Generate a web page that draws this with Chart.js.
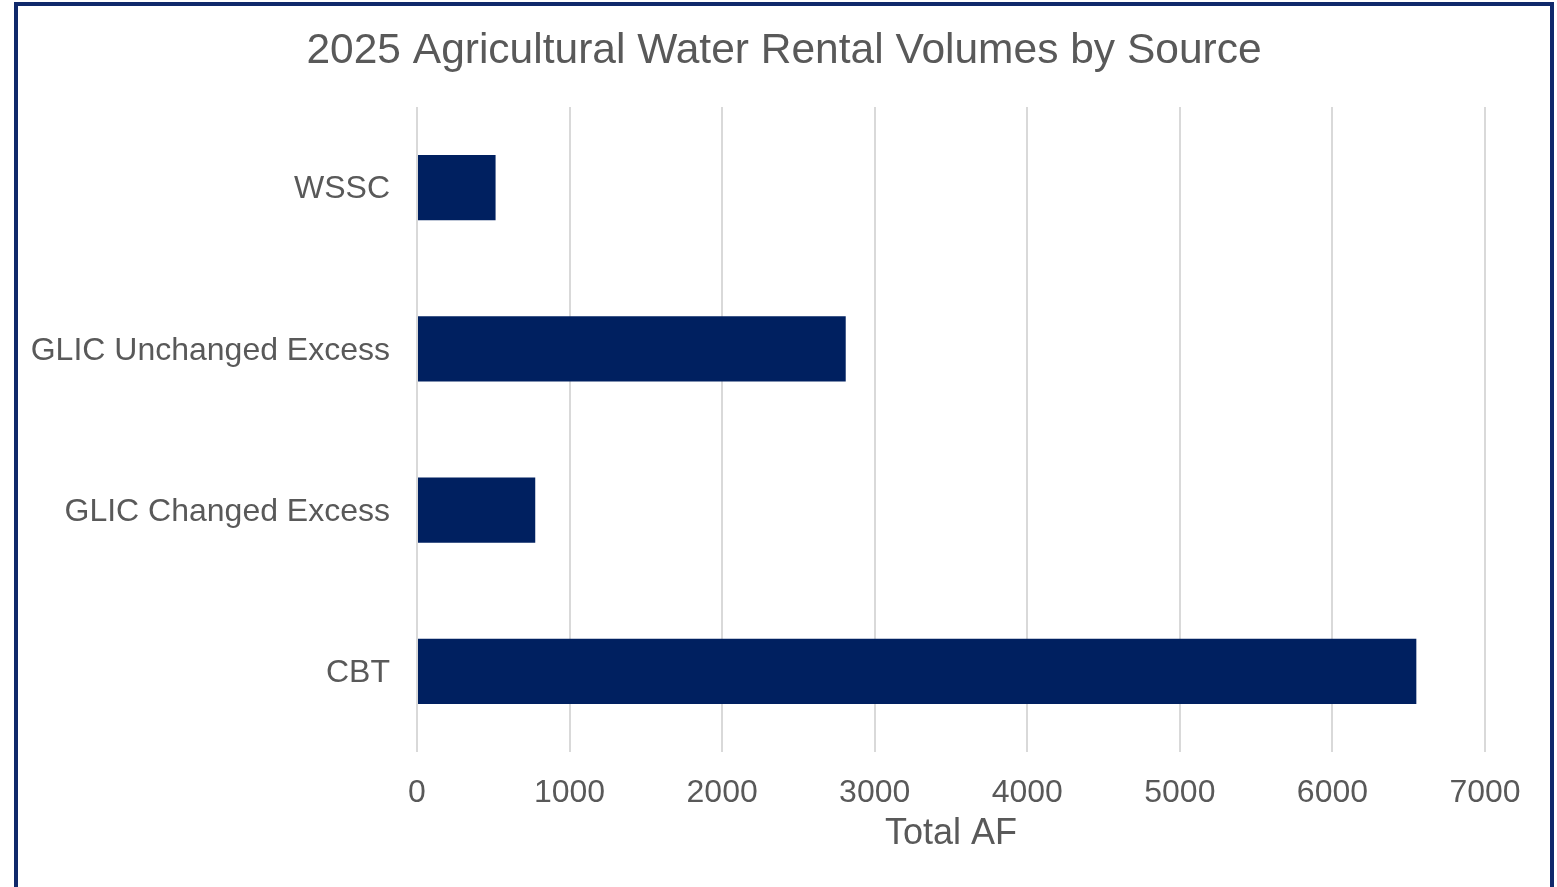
<!DOCTYPE html>
<html>
<head>
<meta charset="utf-8">
<title>2025 Agricultural Water Rental Volumes by Source</title>
<script src="https://cdn.jsdelivr.net/npm/chart.js@4/dist/chart.umd.min.js"></script>
<style>
    html, body { margin: 0; padding: 0; background: #fff; overflow: hidden; }
    #frame {
        position: absolute;
        left: 14px;
        top: 2px;
        width: 1540px;
        height: 890px;
        box-sizing: border-box;
        border: 4px solid #10296b;
        border-bottom: none;
    }
    #wrap { position: relative; width: 1532px; height: 881px; }
</style>
</head>
<body>
<div id="frame">
    <div id="wrap"><canvas id="chart"></canvas></div>
</div>
<script>
const sources = ['WSSC', 'GLIC Unchanged Excess', 'GLIC Changed Excess', 'CBT'];
const totalAF = [515, 2810, 775, 6550];
const axisMax = 7000;
const axisStep = 1000;

const textGray = '#595959';
const fontFamily = '"Liberation Sans", Arial, sans-serif';

new Chart(document.getElementById('chart'), {
    type: 'bar',
    data: {
        labels: sources,
        datasets: [{
            label: 'Total AF',
            data: totalAF,
            backgroundColor: '#002060',
            barPercentage: 0.81,
            categoryPercentage: 0.5
        }]
    },
    options: {
        indexAxis: 'y',
        responsive: true,
        maintainAspectRatio: false,
        animation: false,
        layout: { padding: 0 },
        plugins: {
            legend: { display: false },
            tooltip: { enabled: false },
            title: {
                display: true,
                text: '2025 Agricultural Water Rental Volumes by Source',
                color: textGray,
                font: { family: fontFamily, size: 42.5, weight: 'normal', lineHeight: 1.2 },
                padding: { top: 20, bottom: 30 }
            }
        },
        scales: {
            x: {
                min: 0,
                max: axisMax,
                grid: { color: '#d9d9d9', lineWidth: 2, drawTicks: false },
                border: { display: false },
                ticks: {
                    stepSize: axisStep,
                    padding: 22,
                    color: textGray,
                    font: { family: fontFamily, size: 32, lineHeight: 1.2 },
                    callback: v => String(v)
                },
                title: {
                    display: true,
                    text: 'Total AF',
                    color: textGray,
                    font: { family: fontFamily, size: 36, lineHeight: 1.2 },
                    padding: { top: 0, bottom: 31 }
                },
                // fixed axis height, and room on the right kept by the axis
                // itself so the title stays centred on the whole canvas
                afterFit: scale => {
                    scale.height = 135;
                    scale.paddingRight = 65;
                }
            },
            y: {
                grid: { display: false, drawTicks: false },
                border: { display: false },
                ticks: {
                    padding: 27,
                    labelOffset: 2,
                    color: textGray,
                    font: { family: fontFamily, size: 32, lineHeight: 1.2 }
                },
                afterFit: scale => { scale.width = 399; }
            }
        }
    }
});
</script>
</body>
</html>
